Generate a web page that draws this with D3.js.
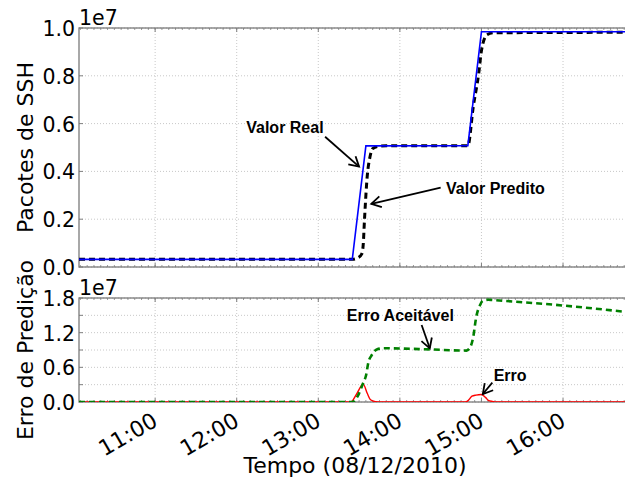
<!DOCTYPE html>
<html>
<head>
<meta charset="utf-8">
<script src="https://cdn.jsdelivr.net/npm/d3@7"></script>
<style>
  body { margin: 0; background: #fff; }
  svg { display: block; }
  .lbl { font-family: "DejaVu Sans", sans-serif; fill: #000; }
  .note { font-family: "Liberation Sans", Arial, sans-serif; font-weight: bold; font-size: 16px; fill: #000; }
</style>
</head>
<body>
<svg id="chart" width="625" height="485"></svg>
<script>
// all values in units of 1e7, times on 08/12/2010
const realTimes = ["10:04", "13:25", "13:35", "14:50", "15:00", "16:50"];
const realValues = [0.032, 0.032, 0.507, 0.508, 0.984, 0.984];

const predTimes = ["10:04", "13:25", "13:29", "13:32", "13:33", "13:34", "13:36", "13:38", "13:40", "13:44", "13:50",
                   "14:50", "14:54", "14:58", "15:00", "15:04", "15:09", "16:50"];
const predValues = [0.032, 0.032, 0.038, 0.055, 0.09, 0.2, 0.38, 0.46, 0.495, 0.505, 0.507,
                    0.507, 0.671, 0.81, 0.905, 0.971, 0.98, 0.982];

const errTimes = ["10:04", "13:24", "13:28", "13:33", "13:36", "13:38", "13:40", "13:44",
                  "14:48", "14:50", "14:53", "14:56", "15:00", "15:03", "15:05", "15:08", "15:11", "16:50"];
const errValues = [0, 0, 0.13, 0.31, 0.15, 0.05, 0.02, 0,
                   0, 0.02, 0.10, 0.12, 0.13, 0.08, 0.03, 0.01, 0, 0];

const accTimes = ["10:04", "13:25", "13:27", "13:30", "13:33", "13:35", "13:37", "13:39", "13:43", "13:48",
                  "14:22", "14:49", "14:52", "14:54", "14:56", "14:59", "15:01", "15:05", "15:08", "16:00", "16:50"];
const accValues = [0, 0, 0.03, 0.15, 0.33, 0.45, 0.70, 0.80, 0.91, 0.93,
                   0.91, 0.89, 0.96, 1.13, 1.45, 1.68, 1.75, 1.77, 1.765, 1.67, 1.55];

const hourTicks = ["11:00", "12:00", "13:00", "14:00", "15:00", "16:00"];
const topTicks = [0, 0.2, 0.4, 0.6, 0.8, 1.0];
const botTicks = [0, 0.3, 0.6, 0.9, 1.2, 1.5, 1.8];
const botLabels = [0, 0.6, 1.2, 1.8];

// annotations: text anchor, arrow tail, arrow tip
const notes = [
  {text: "Valor Real", panel: 0, at: ["12:07", 0.561], from: ["13:05", 0.545], to: ["13:30", 0.42]},
  {text: "Valor Predito", panel: 0, at: ["14:34", 0.304], from: ["14:30", 0.332], to: ["13:39", 0.264]},
  {text: "Erro Aceitável", panel: 1, at: ["13:21", 1.40], from: ["14:16", 1.333], to: ["14:22", 0.929]},
  {text: "Erro", panel: 1, at: ["15:09", 0.37], from: ["15:08", 0.334], to: ["15:01", 0.138]}
];

const parseT = d3.timeParse("%Y-%m-%d %H:%M");
const T = s => parseT("2010-12-08 " + s);
const fmt = d3.timeFormat("%H:%M");

const svg = d3.select("#chart");
const left = 79, right = 631;

const x = d3.scaleTime().domain([T("10:04"), T("16:50")]).range([left, right]);
const yTop = d3.scaleLinear().domain([0, 1]).range([267, 28]);
const yBot = d3.scaleLinear().domain([0, 1.8]).range([402, 298]);

const panels = [
  {y: yTop, ticks: topTicks, labels: topTicks, name: "Pacotes de SSH"},
  {y: yBot, ticks: botTicks, labels: botLabels, name: "Erro de Predição"}
];

panels.forEach((p, i) => {
  const top = p.y.range()[1], bottom = p.y.range()[0];
  const g = svg.append("g");

  g.append("clipPath").attr("id", "clip" + i)
    .append("rect").attr("x", left).attr("y", top).attr("width", right - left).attr("height", bottom - top);

  // grid
  g.selectAll(".vg").data(hourTicks).enter().append("line")
    .attr("x1", d => x(T(d))).attr("x2", d => x(T(d)))
    .attr("y1", top).attr("y2", bottom)
    .attr("stroke", "#c8c8c8").attr("stroke-dasharray", "1,2").attr("stroke-width", 1);
  g.selectAll(".hg").data(p.ticks).enter().append("line")
    .attr("x1", left).attr("x2", right)
    .attr("y1", d => p.y(d)).attr("y2", d => p.y(d))
    .attr("stroke", "#c8c8c8").attr("stroke-dasharray", "1,2").attr("stroke-width", 1);

  // minor ticks every 5 minutes
  const minor = d3.timeMinute.every(5).range(x.domain()[0], x.domain()[1]);
  [top, bottom].forEach(yy => {
    const dir = yy === top ? 1 : -1;
    g.selectAll(null).data(minor).enter().append("line")
      .attr("x1", d => x(d)).attr("x2", d => x(d))
      .attr("y1", yy).attr("y2", yy + dir * 2)
      .attr("stroke", "#808080").attr("stroke-width", 0.8);
    g.selectAll(null).data(hourTicks).enter().append("line")
      .attr("x1", d => x(T(d))).attr("x2", d => x(T(d)))
      .attr("y1", yy).attr("y2", yy + dir * 4)
      .attr("stroke", "#808080").attr("stroke-width", 1);
  });
  g.selectAll(null).data(p.ticks).enter().append("line")
    .attr("x1", left).attr("x2", left + 4)
    .attr("y1", d => p.y(d)).attr("y2", d => p.y(d))
    .attr("stroke", "#808080").attr("stroke-width", 1);

  // frame
  g.append("rect").attr("x", left).attr("y", top).attr("width", right - left).attr("height", bottom - top)
    .attr("fill", "none").attr("stroke", "#7a7a7a").attr("stroke-width", 1.3);

  // y tick labels
  g.selectAll(null).data(p.labels).enter().append("text")
    .attr("class", "lbl").attr("font-size", 20.5)
    .attr("x", left - 4).attr("y", d => p.y(d) + 8)
    .attr("text-anchor", "end")
    .text(d => d3.format(".1f")(d));

  g.append("text").attr("class", "lbl").attr("font-size", 20.5)
    .attr("x", left).attr("y", top - 3).text("1e7");

  g.append("text").attr("class", "lbl").attr("font-size", 22)
    .attr("text-anchor", "middle")
    .attr("transform", `translate(33,${(top + bottom) / 2}) rotate(-90)`)
    .text(p.name);
});

// lines
const lineTop = d3.line().x(d => x(T(d[0]))).y(d => yTop(d[1]));
const lineBot = d3.line().x(d => x(T(d[0]))).y(d => yBot(d[1]));

const plotTop = svg.append("g").attr("clip-path", "url(#clip0)");
plotTop.append("path").datum(d3.zip(predTimes, predValues))
  .attr("d", lineTop.curve(d3.curveMonotoneX))
  .attr("fill", "none").attr("stroke", "#000").attr("stroke-width", 3).attr("stroke-dasharray", "6,4");
plotTop.append("path").datum(d3.zip(realTimes, realValues))
  .attr("d", lineTop.curve(d3.curveLinear))
  .attr("fill", "none").attr("stroke", "#0000ff").attr("stroke-width", 1.6);

const plotBot = svg.append("g").attr("clip-path", "url(#clip1)");
plotBot.append("path").datum(d3.zip(errTimes, errValues))
  .attr("d", lineBot.curve(d3.curveMonotoneX))
  .attr("fill", "none").attr("stroke", "#ff0000").attr("stroke-width", 1.4);
plotBot.append("path").datum(d3.zip(accTimes, accValues))
  .attr("d", lineBot.curve(d3.curveMonotoneX))
  .attr("fill", "none").attr("stroke", "#008000").attr("stroke-width", 2.6).attr("stroke-dasharray", "6,4");

// x tick labels (bottom panel only)
svg.selectAll(null).data(hourTicks).enter().append("text")
  .attr("class", "lbl").attr("font-size", 22)
  .attr("text-anchor", "end")
  .attr("transform", d => `translate(${x(T(d)) + 4},${yBot(0) + 23}) rotate(-30)`)
  .text(d => fmt(T(d)));

svg.append("text").attr("class", "lbl").attr("font-size", 22)
  .attr("text-anchor", "middle")
  .attr("x", (left + right) / 2).attr("y", 473)
  .text("Tempo (08/12/2010)");

// annotations
notes.forEach(n => {
  const y = n.panel === 0 ? yTop : yBot;
  svg.append("text").attr("class", "note")
    .attr("x", x(T(n.at[0]))).attr("y", y(n.at[1]))
    .text(n.text);
  const x1 = x(T(n.from[0])), y1 = y(n.from[1]);
  const x2 = x(T(n.to[0])), y2 = y(n.to[1]);
  const ang = Math.atan2(y2 - y1, x2 - x1);
  const len = 11, spread = Math.PI / 6;
  svg.append("line").attr("x1", x1).attr("y1", y1).attr("x2", x2).attr("y2", y2)
    .attr("stroke", "#000").attr("stroke-width", 1.8);
  svg.append("path")
    .attr("d", `M${x2 - len * Math.cos(ang - spread)},${y2 - len * Math.sin(ang - spread)}L${x2},${y2}L${x2 - len * Math.cos(ang + spread)},${y2 - len * Math.sin(ang + spread)}`)
    .attr("fill", "none").attr("stroke", "#000").attr("stroke-width", 1.8);
});
</script>
</body>
</html>
